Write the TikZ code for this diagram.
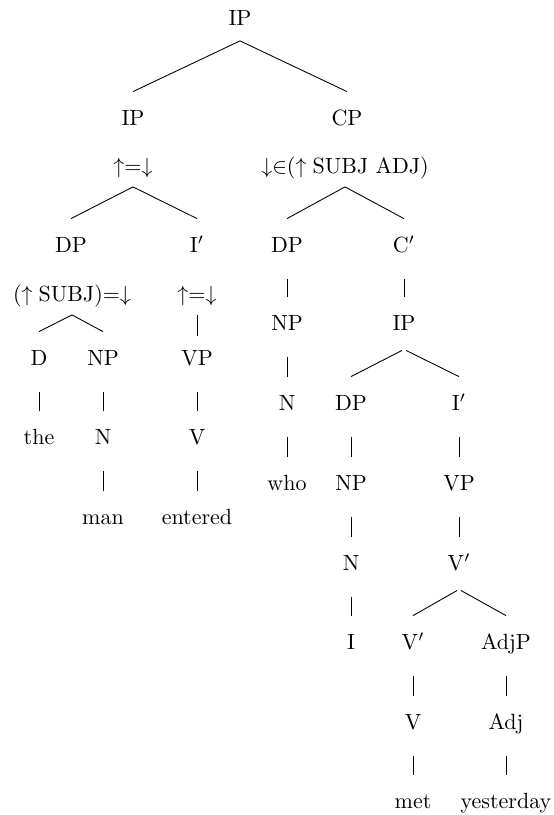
\documentclass[tikz,border=0pt]{standalone}
\begin{document}
\begin{tikzpicture}[x=0.4545pt, y=-0.4545pt,
    every node/.style={inner sep=0pt, outer ysep=8.6pt, text height=6.8pt, text depth=0pt},
    anot/.style={outer ysep=6.1pt},
    rama/.style={shorten <=1pt},
    tallo/.style={shorten <=3.5pt}
]
\useasboundingbox (0,0) rectangle (553,815);

% -------- Raíz y primer nivel --------
\node[outer ysep=7pt] (ip0) at (240,18) {IP};
\node (ip1) at (133,118) {IP};
\node (cp) at (347,118) {CP};
\node[anot] (a1) at (133,166) {${\uparrow}{=}{\downarrow}$};
\node[anot] (a2) at (345,166) {${\downarrow}{\in}({\uparrow}\;\mathrm{SUBJ\ ADJ})$};

\draw (ip0.south) -- (ip1.north);
\draw (ip0.south) -- (cp.north);

% -------- Sujeto: the man entered --------
\node (dp1) at (71,245) {DP};
\node (i1) at (197,245) {$\mathrm{I}'$};
\node[anot] (a3) at (72,294) {$({\uparrow}\;\mathrm{SUBJ}){=}{\downarrow}$};
\node[anot] (a4) at (197,294) {${\uparrow}{=}{\downarrow}$};
\node (d) at (39,358) {D};
\node (np1) at (103,358) {NP};
\node (vp1) at (197,358) {VP};
\node (the) at (39,437) {the};
\node (n1) at (103,437) {N};
\node (v1) at (197,437) {V};
\node (man) at (103,517) {man};
\node (entered) at (197,517) {entered};

\draw (a1.south) -- (dp1.north);
\draw (a1.south) -- (i1.north);
\draw (a3.south) -- (d.north);
\draw (a3.south) -- (np1.north);
\draw[shorten >=-2pt] (a4.south) -- (vp1.north);
\draw[tallo] (d.south) -- (the.north);
\draw[tallo] (np1.south) -- (n1.north);
\draw[tallo] (vp1.south) -- (v1.north);
\draw[tallo] (n1.south) -- (man.north);
\draw[tallo] (v1.south) -- (entered.north);

% -------- Relativa: who I met yesterday --------
\node (dp2) at (287,245) {DP};
\node (c1) at (404,245) {$\mathrm{C}'$};
\node (np2) at (287,323) {NP};
\node (ip2) at (404,323) {IP};
\node (n2) at (287,403) {N};
\node (dp3) at (351,403) {DP};
\node (i2) at (459,403) {$\mathrm{I}'$};
\node (who) at (287,483) {who};
\node (np3) at (351,483) {NP};
\node (vp2) at (459,483) {VP};
\node (n3) at (351,563) {N};
\node (v2) at (459,563) {$\mathrm{V}'$};
\node (i3) at (351,642) {I};
\node (v3) at (413,642) {$\mathrm{V}'$};
\node (adjp) at (506,642) {AdjP};
\node (v4) at (413,722) {V};
\node (adj) at (506,722) {Adj};
\node (met) at (413,801) {met};
\node (yest) at (506,801) {yesterday};

\draw (a2.south) -- (dp2.north);
\draw (a2.south) -- (c1.north);
\draw[tallo] (dp2.south) -- (np2.north);
\draw[tallo] (c1.south) -- (ip2.north);
\draw[tallo] (np2.south) -- (n2.north);
\draw[rama] (ip2.south) -- (dp3.north);
\draw[rama] (ip2.south) -- (i2.north);
\draw[tallo] (n2.south) -- (who.north);
\draw[tallo] (dp3.south) -- (np3.north);
\draw[tallo] (i2.south) -- (vp2.north);
\draw[tallo] (np3.south) -- (n3.north);
\draw[tallo] (vp2.south) -- (v2.north);
\draw[tallo] (n3.south) -- (i3.north);
\draw[rama] (v2.south) -- (v3.north);
\draw[rama] (v2.south) -- (adjp.north);
\draw[tallo] (v3.south) -- (v4.north);
\draw[tallo] (adjp.south) -- (adj.north);
\draw[tallo] (v4.south) -- (met.north);
\draw[tallo] (adj.south) -- (yest.north);
\end{tikzpicture}
\end{document}
